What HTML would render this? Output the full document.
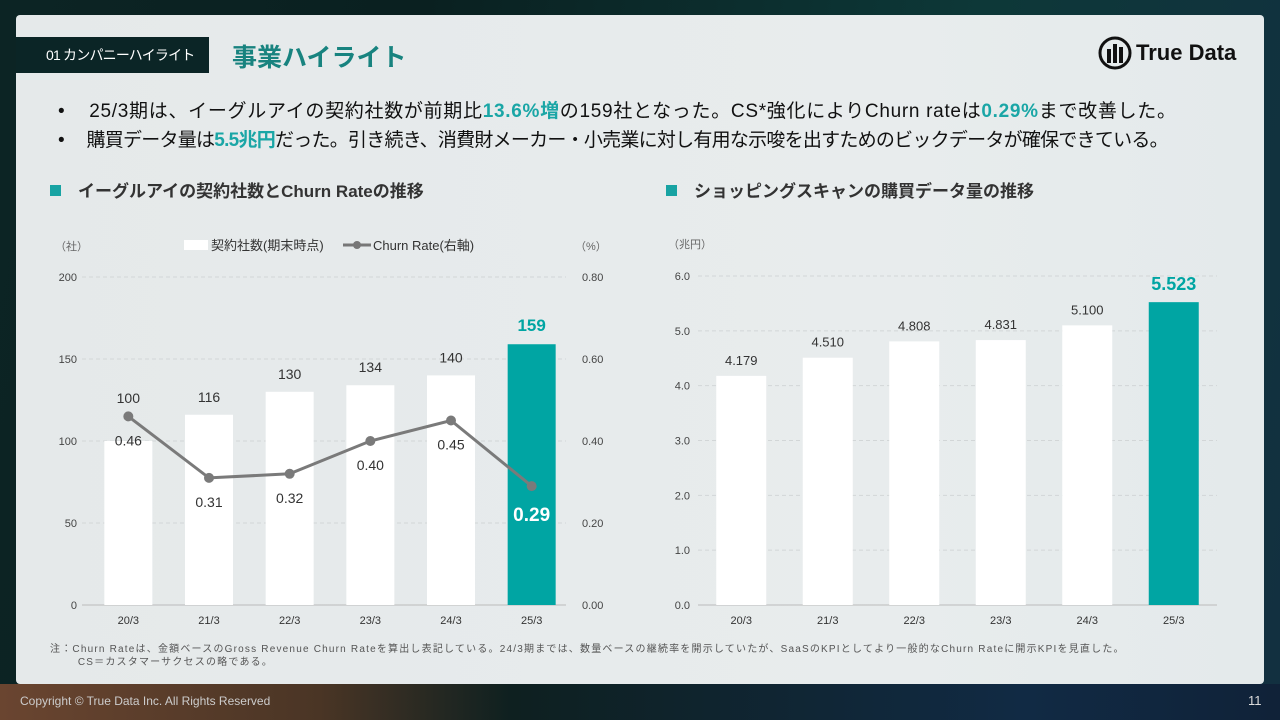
<!DOCTYPE html>
<html><head><meta charset="utf-8">
<style>
*{margin:0;padding:0;box-sizing:border-box}
body{width:1280px;height:720px;overflow:hidden;font-family:"Liberation Sans","Noto Sans CJK JP",sans-serif;background:linear-gradient(100deg,#0c2424 0%,#0a2020 30%,#0d3838 70%,#123040 100%);position:relative}
.bottom{position:absolute;left:0;top:684px;width:1280px;height:36px;background:linear-gradient(90deg,#6a4530 0%,#4a3525 25%,#0e2020 40%,#112a44 80%,#102238 100%)}
.card{position:absolute;left:16px;top:15px;width:1248px;height:669px;background:linear-gradient(90deg,#e5e9ea,#e8eced 70%,#e4eaeb);border-radius:4px}
.tag{position:absolute;left:16px;top:37px;width:193px;height:36px;background:#0b2526;color:#fff;font-size:14px;line-height:36px;padding-left:30px;white-space:nowrap;letter-spacing:-0.8px}
.title{position:absolute;left:232px;top:38px;font-size:25px;font-weight:bold;color:#18837f}
.logo{position:absolute;left:1098px;top:36px;font-size:22px;font-weight:bold;color:#111;display:flex;align-items:center;gap:4px}
.bul{position:absolute;left:58px;font-size:19px;color:#111;white-space:nowrap}
.bul b{color:#1aa6a6}
.sec{position:absolute;font-size:17px;font-weight:bold;color:#333;top:177px}
.sec:before{content:"";display:inline-block;width:11px;height:11px;background:#18a3a3;margin-right:17px;vertical-align:1px}
.note{position:absolute;left:50px;top:643px;font-size:10px;color:#555;line-height:13px;letter-spacing:1.2px;white-space:nowrap}
.copy{position:absolute;left:20px;top:694px;font-size:12px;color:#ccc}
.pg{position:absolute;left:1248px;top:693px;font-size:13px;color:#ddd}
svg text{font-family:"Liberation Sans","Noto Sans CJK JP",sans-serif}
</style></head><body>
<div class="bottom"></div>
<div class="card"></div>
<div class="tag">01 カンパニーハイライト</div>
<div class="title">事業ハイライト</div>
<div class="logo"><svg width="34" height="34" viewBox="0 0 34 34"><circle cx="17" cy="17" r="15" fill="none" stroke="#111" stroke-width="3"/><rect x="9" y="13" width="4" height="14" fill="#111"/><rect x="15" y="8" width="4" height="19" fill="#111"/><rect x="21" y="11" width="4" height="16" fill="#111"/></svg>True Data</div>
<div class="bul" style="top:96px;letter-spacing:0.7px">•&nbsp;&nbsp;&nbsp;&nbsp;25/3期は、イーグルアイの契約社数が前期比<b>13.6%増</b>の159社となった。CS*強化によりChurn rateは<b>0.29%</b>まで改善した。</div>
<div class="bul" style="top:125px;letter-spacing:-0.75px">•&nbsp;&nbsp;&nbsp;&nbsp;&nbsp;購買データ量は<b>5.5兆円</b>だった。引き続き、消費財メーカー・小売業に対し有用な示唆を出すためのビックデータが確保できている。</div>
<div class="sec" style="left:50px">イーグルアイの契約社数とChurn Rateの推移</div>
<div class="sec" style="left:666px">ショッピングスキャンの購買データ量の推移</div>
<svg id="c" width="1280" height="720" style="position:absolute;left:0;top:0"></svg>
<div class="note">注：Churn Rateは、金額ベースのGross Revenue Churn Rateを算出し表記している。24/3期までは、数量ベースの継続率を開示していたが、SaaSのKPIとしてより一般的なChurn Rateに開示KPIを見直した。<br>&nbsp;&nbsp;&nbsp;&nbsp;&nbsp;&nbsp;&nbsp;CS＝カスタマーサクセスの略である。</div>
<div class="copy">Copyright © True Data Inc. All Rights Reserved</div>
<div class="pg">11</div>
<script>
const periods=["20/3","21/3","22/3","23/3","24/3","25/3"];
const companies=[100,116,130,134,140,159];
const churn=[0.46,0.31,0.32,0.40,0.45,0.29];
const leftTicks=[0,50,100,150,200];
const rightTicks=[0,0.2,0.4,0.6,0.8];
const dataVol=[4.179,4.510,4.808,4.831,5.100,5.523];
const volTicks=[0,1,2,3,4,5,6];
const svg=document.getElementById('c');
const NS="http://www.w3.org/2000/svg";
function mk(t,a,txt){const e=document.createElementNS(NS,t);for(const k in a)e.setAttribute(k,a[k]);if(txt!=null)e.textContent=txt;svg.appendChild(e);return e;}
// left chart
const L={x0:82,x1:566,y0:605,y1:277};
const ly=v=>L.y0-(v/200)*(L.y0-L.y1);
const ry=v=>L.y0-(v/0.8)*(L.y0-L.y1);
const lx=i=>L.x0+6+(i+0.5)*(L.x1-L.x0)/periods.length;
leftTicks.forEach(t=>{
 const g=mk('line',{x1:L.x0,x2:L.x1,y1:ly(t),y2:ly(t),stroke:t?'#d2d6d7':'#bbb','stroke-dasharray':t?'4 3':'none'});
 
 const e=mk('text',{x:77,y:ly(t)+4,'font-size':11,fill:'#444','text-anchor':'end'},t);
 
});
rightTicks.forEach(t=>{
 const e=mk('text',{x:582,y:ry(t)+4,'font-size':11,fill:'#444'},t.toFixed(2));
 
});
mk('text',{x:55,y:250,'font-size':11,fill:'#666'},'（社）');
mk('text',{x:575,y:250,'font-size':11,fill:'#666'},'（%）');
mk('rect',{x:184,y:240,width:24,height:10,fill:'#fff'});
mk('text',{x:211,y:250,'font-size':13,fill:'#333'},'契約社数(期末時点)');
mk('line',{x1:343,x2:371,y1:245,y2:245,stroke:'#777','stroke-width':3});
mk('circle',{cx:357,cy:245,r:4,fill:'#777'});
mk('text',{x:373,y:250,'font-size':13,fill:'#333'},'Churn Rate(右軸)');
companies.forEach((v,i)=>{
 const last=i===companies.length-1;
 const b=mk('rect',{x:lx(i)-24,y:ly(v),width:48,height:L.y0-ly(v),fill:last?'#00a5a3':'#fff'});
 
 const t=mk('text',{x:lx(i),y:ly(v)-(i===0?38:13),'font-size':last?17:14,'font-weight':last?'bold':'normal',fill:last?'#00a5a3':'#333','text-anchor':'middle'},v);
 
 const x=mk('text',{x:lx(i),y:624,'font-size':11,fill:'#333','text-anchor':'middle'},periods[i]);
 
});
const line=mk('polyline',{points:churn.map((v,i)=>lx(i)+','+ry(v)).join(' '),fill:'none',stroke:'#7a7a7a','stroke-width':3});

churn.forEach((v,i)=>{
 const last=i===churn.length-1;
 const p=mk('circle',{cx:lx(i),cy:ry(v),r:5,fill:'#7a7a7a'});
 
 const t=mk('text',{x:lx(i),y:ry(v)+(last?35:29),'font-size':last?19:14,'font-weight':last?'bold':'normal',fill:last?'#fff':'#333','text-anchor':'middle'},v.toFixed(2));
 
});
// right chart
const R={x0:698,x1:1217,y0:605,y1:276};
const vy=v=>R.y0-(v/6)*(R.y0-R.y1);
const vx=i=>R.x0+(i+0.5)*(R.x1-R.x0)/periods.length;
mk('text',{x:668,y:248,'font-size':11,fill:'#666'},'（兆円）');
volTicks.forEach(t=>{
 const g=mk('line',{x1:R.x0,x2:R.x1,y1:vy(t),y2:vy(t),stroke:t?'#d2d6d7':'#bbb','stroke-dasharray':t?'4 3':'none'});
 
 const e=mk('text',{x:690,y:vy(t)+4,'font-size':11,fill:'#444','text-anchor':'end'},t.toFixed(1));
 
});
dataVol.forEach((v,i)=>{
 const last=i===dataVol.length-1;
 const b=mk('rect',{x:vx(i)-25,y:vy(v),width:50,height:R.y0-vy(v),fill:last?'#00a5a3':'#fff'});
 
 const t=mk('text',{x:vx(i),y:vy(v)-(last?12:11),'font-size':last?18:13,'font-weight':last?'bold':'normal',fill:last?'#00a5a3':'#333','text-anchor':'middle'},v.toFixed(3));
 
 const x=mk('text',{x:vx(i),y:624,'font-size':11,fill:'#333','text-anchor':'middle'},periods[i]);
 
});
</script>
</body></html>
